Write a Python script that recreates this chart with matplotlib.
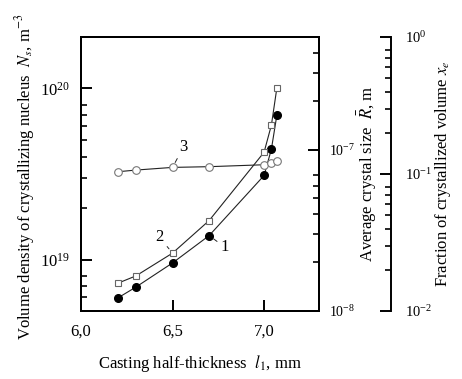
import matplotlib
matplotlib.use("Agg")
import matplotlib.pyplot as plt
from matplotlib.ticker import LogLocator, FixedLocator, FixedFormatter, NullFormatter

plt.rcParams["font.family"] = ["Liberation Serif", "DejaVu Serif"]
plt.rcParams["mathtext.fontset"] = "stix"
plt.rcParams["font.size"] = 12

# casting half-thickness, mm
thickness = [6.2, 6.3, 6.5, 6.7, 7.0, 7.04, 7.07]
# curve 1 and 2 (left axis), curve 3 (average size axis)
nuclei_1 = [5.95e18, 6.9e18, 9.55e18, 1.38e19, 3.1e19, 4.42e19, 7.0e19]
nuclei_2 = [7.26e18, 8.02e18, 1.09e19, 1.69e19, 4.24e19, 6.11e19, 1.01e20]
size_3 = [7.3e-8, 7.48e-8, 7.77e-8, 7.85e-8, 8.07e-8, 8.22e-8, 8.46e-8]

x_ticks = [6.0, 6.5, 7.0]
x_ticklabels = ["6,0", "6,5", "7,0"]

fig = plt.figure(figsize=(4.62, 3.79), dpi=100)
ax = fig.add_axes([81 / 462, 68 / 379, 238 / 462, 274 / 379])
ax_r = ax.twinx()
ax_x = ax.twinx()

line_kw = dict(color="#222222", lw=0.8, zorder=3)
ax.plot(thickness, nuclei_1, marker="o", ms=5.5, mfc="black", mec="black", **line_kw)
ax.plot(thickness, nuclei_2, marker="s", ms=5, mfc="white", mec="#666666", mew=0.8, **line_kw)
ax_r.plot(thickness, size_3, marker="o", ms=5.5, mfc="white", mec="#777777", mew=0.8, **line_kw)

ax.set_xlim(6.0, 7.3)
ax.set_yscale("log")
ax.set_ylim(5e18, 2e20)
ax_r.set_yscale("log")
ax_r.set_ylim(1e-8, 5e-7)
ax_x.set_yscale("log")
ax_x.set_ylim(1e-2, 1e0)

ax.xaxis.set_major_locator(FixedLocator(x_ticks))
ax.xaxis.set_major_formatter(FixedFormatter(x_ticklabels))

ax.yaxis.set_major_locator(LogLocator(base=10, numticks=10))
ax.yaxis.set_minor_locator(LogLocator(base=10, subs=[2, 3, 4, 5, 6, 7, 8], numticks=10))
ax.yaxis.set_minor_formatter(NullFormatter())
ax_r.yaxis.set_minor_locator(LogLocator(base=10, subs=[2, 3, 4, 5, 6, 7], numticks=10))
ax_r.yaxis.set_minor_formatter(NullFormatter())
ax_x.yaxis.set_minor_locator(LogLocator(base=10, subs=[2, 3, 4, 5, 6, 7, 8], numticks=10))
ax_x.yaxis.set_minor_formatter(NullFormatter())

for a in (ax, ax_r, ax_x):
    for s in a.spines.values():
        s.set_linewidth(1.4)
    a.tick_params(which="major", direction="in", length=8, width=1.4, labelsize=12)
    a.tick_params(which="minor", direction="in", length=4, width=1.2)

ax.tick_params(axis="x", which="both", top=False, pad=9)
ax.tick_params(axis="y", which="both", right=False, pad=8)
ax_r.tick_params(axis="y", which="both", pad=7, labelsize=10)
ax_x.tick_params(axis="y", which="both", pad=10, labelsize=10.5)

ax_x.spines["right"].set_position(("axes", 1.3025))
for side in ("top", "bottom", "left"):
    ax_x.spines[side].set_visible(False)

ax.set_xlabel("Casting half-thickness  $l_1$, mm", fontsize=12, va="center")
ax.xaxis.set_label_coords(0.5, -0.19)
ax.set_ylabel("Volume density of crystallizing nucleus  $N_s$, m$^{-3}$", fontsize=12, va="center")
ax.yaxis.set_label_coords(-0.235, 0.49)
ax_r.set_ylabel(r"Average crystal size  $\bar{R}$, m", fontsize=12, va="center")
ax_r.yaxis.set_label_coords(1.205, 0.5)
ax_x.set_ylabel("Fraction of crystallized volume $x_e$", fontsize=12, va="center")
ax_x.yaxis.set_label_coords(1.521, 0.5)

arrow = dict(arrowstyle="-", color="#222222", lw=0.7, shrinkA=1, shrinkB=4)
ax_r.annotate("3", xy=(thickness[2], size_3[2]), xytext=(8, 15), textcoords="offset points",
              ha="center", va="center", fontsize=12, arrowprops=arrow)
ax.annotate("2", xy=(thickness[2], nuclei_2[2]), xytext=(-9.5, 11.5), textcoords="offset points",
            ha="center", va="center", fontsize=12, arrowprops=arrow)
ax.annotate("1", xy=(thickness[3], nuclei_1[3]), xytext=(11.5, -8.5), textcoords="offset points",
            ha="center", va="center", fontsize=12, arrowprops=arrow)

fig.savefig("out.png", dpi=100)
